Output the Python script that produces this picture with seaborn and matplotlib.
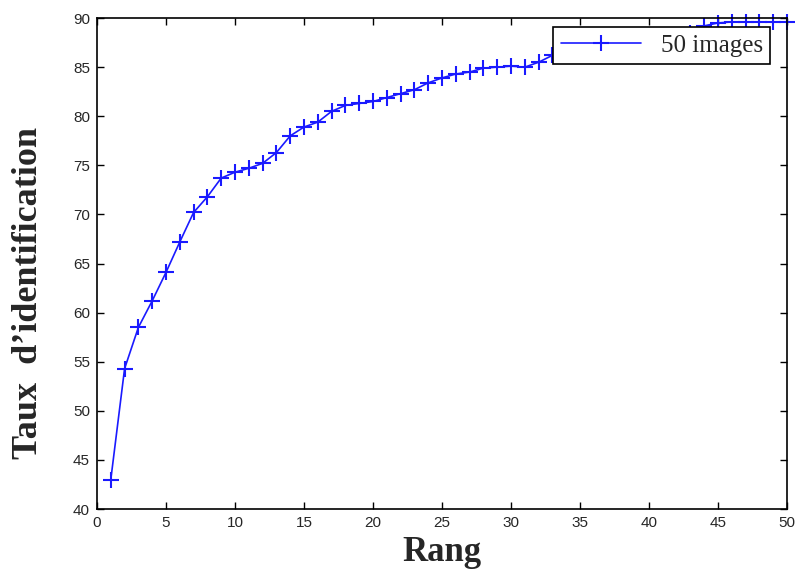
"""
Taux d'identification en fonction du rang (courbe CMC, 50 images).
"""

import matplotlib
matplotlib.use('Agg')
import matplotlib.pyplot as plt
import seaborn as sns

# Rang 1..50
rang = list(range(1, 51))

# Taux d'identification (34-43 are hidden under the legend)
taux = [43.0, 54.3, 58.5, 61.2, 64.1, 67.2, 70.2, 71.8, 73.7, 74.3,
        74.7, 75.2, 76.3, 78.0, 78.9, 79.4, 80.5, 81.1, 81.3, 81.5,
        81.9, 82.3, 82.7, 83.4, 83.9, 84.3, 84.5, 84.9, 85.0, 85.1,
        85.0, 85.5, 86.2, 86.5, 86.8, 87.0, 87.3, 87.5, 87.7, 87.9,
        88.1, 88.3, 88.5, 89.2, 89.5, 89.6, 89.6, 89.6, 89.6, 89.6]

x_ticks = list(range(0, 51, 5))
y_ticks = list(range(40, 91, 5))

sns.set_style('ticks')
plt.rcParams['font.family'] = ['Liberation Sans', 'DejaVu Sans']

fig = plt.figure(figsize=(7.97, 5.74), dpi=100)
ax = fig.add_axes([0.1217, 0.1132, 0.8658, 0.8554])

sns.lineplot(x=rang, y=taux, ax=ax, color='#1a1aff', linewidth=1.2,
             marker='+', markersize=11, markeredgewidth=1.5,
             markeredgecolor='#1a1aff', label='50 images', clip_on=False)

ax.set_xlim(0, 50)
ax.set_ylim(40, 90)
ax.set_xticks(x_ticks)
ax.set_yticks(y_ticks)
ax.tick_params(direction='in', top=True, right=True, length=5, width=1,
               labelsize=11, color='black', pad=5)
for spine in ax.spines.values():
    spine.set_visible(True)
    spine.set_linewidth(1.2)
    spine.set_color('black')

ax.set_xlabel('Rang', family='Liberation Serif', fontweight='bold',
              fontsize=25, labelpad=4)
ax.set_ylabel('Taux  d\u2019identification', family='Liberation Serif',
              fontweight='bold', fontsize=26)
ax.yaxis.set_label_coords(-0.075, 0.44)

leg = ax.legend(loc='upper right', bbox_to_anchor=(0.9755, 0.982),
                prop={'family': 'Liberation Serif', 'size': 18},
                frameon=True, fancybox=False, framealpha=1,
                borderpad=0.3, handlelength=3.2, handletextpad=0.8,
                borderaxespad=0)
leg.get_frame().set_edgecolor('black')
leg.get_frame().set_linewidth(1.2)
leg.set_zorder(5)

plt.savefig('out.png', dpi=100)
plt.close()
